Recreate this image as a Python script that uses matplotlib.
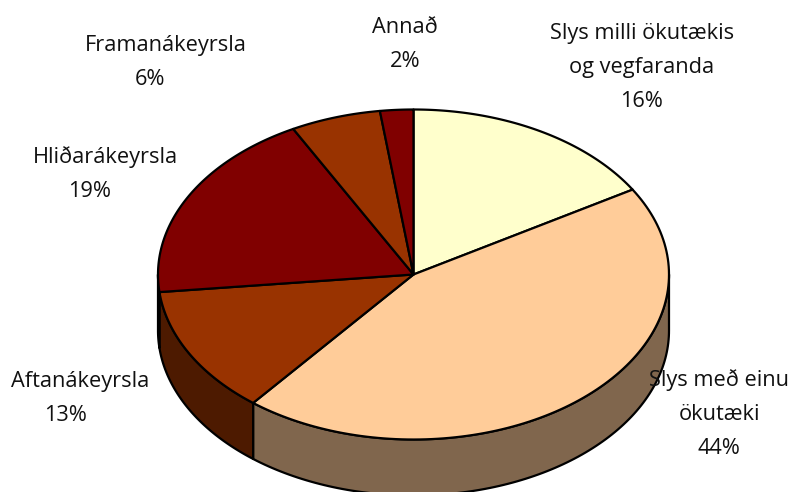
import numpy as np
import matplotlib
matplotlib.use('Agg')
import matplotlib.pyplot as plt

# Valores
labels = [['Slys milli ökutækis', 'og vegfaranda'], ['Slys með einu', 'ökutæki'], ['Aftanákeyrsla'],
          ['Hliðarákeyrsla'], ['Framanákeyrsla'], ['Annað']]
pct_labels = ['16%', '44%', '13%', '19%', '6%', '2%']
values = [16.4, 44.4, 12.5, 18.9, 5.7, 2.1]

top_colors = ['#FFFFCC', '#FFCC99', '#993300', '#800000', '#993300', '#800000']
wall_colors = ['#80806A', '#80664D', '#4D1A00', '#400000', '#4D1A00', '#400000']

# Posicion de cada etiqueta: x del nombre, x del porcentaje, linea base del primer renglon
label_x = [642, 719, 80, 105, 166, 405]
pct_x = [642, 719, 66, 90, 150, 405]
label_y = [39, 386, 387, 163, 51, 33]
line_step = 34

# Geometria de la elipse en pixeles
cx, cy = 413.5, 274.5
rx, ry = 255.5, 165
depth = 56


def ellipse(a):
    # a en grados, desde arriba en sentido horario
    a = np.radians(a)
    return cx + rx * np.sin(a), cy - ry * np.cos(a)


fig = plt.figure(figsize=(7.93, 4.92), dpi=100)
ax = fig.add_axes([0, 0, 1, 1])
ax.set_xlim(0, 793)
ax.set_ylim(492, 0)
ax.axis('off')

edges = np.cumsum([0] + values) * 3.6

# Paredes laterales (solo la mitad delantera)
for i in range(len(values)):
    a0, a1 = max(edges[i], 90), min(edges[i + 1], 270)
    if a1 <= a0:
        continue
    x, y = ellipse(np.linspace(a0, a1, 120))
    ax.fill(np.r_[x, x[::-1]], np.r_[y, y[::-1] + depth], fc=wall_colors[i], ec='k', lw=1.6, joinstyle='round')

# Tapa superior
for i in range(len(values)):
    x, y = ellipse(np.linspace(edges[i], edges[i + 1], 120))
    ax.fill(np.r_[cx, x], np.r_[cy, y], fc=top_colors[i], ec='k', lw=1.6, joinstyle='round')

# Etiquetas
for i in range(len(values)):
    y = label_y[i]
    for name in labels[i]:
        ax.text(label_x[i], y, name, ha='center', va='baseline', fontsize=15.7,
                family='Open Sans', color='#111111')
        y += line_step
    ax.text(pct_x[i], y, pct_labels[i], ha='center', va='baseline', fontsize=15.7,
            family='Open Sans', color='#111111')

fig.savefig('out.png', dpi=100)
